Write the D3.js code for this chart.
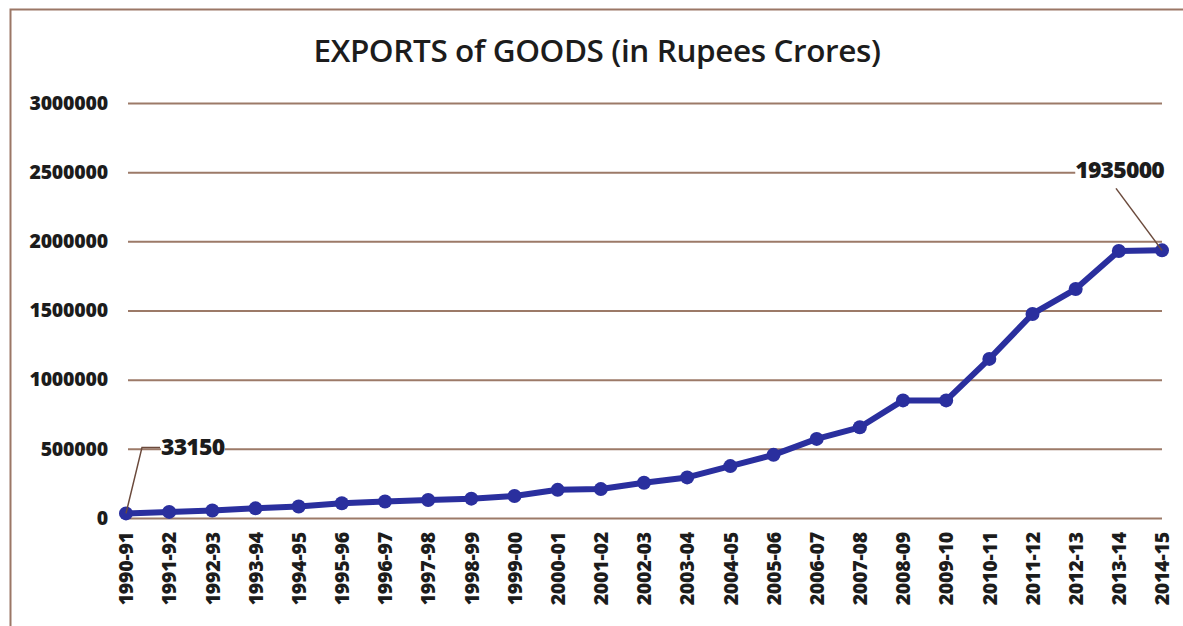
<!DOCTYPE html>
<html>
<head>
<meta charset="utf-8">
<script src="https://cdn.jsdelivr.net/npm/d3@7"></script>
<style>
  html, body { margin: 0; padding: 0; background: #fff; }
  svg { display: block; }
</style>
</head>
<body>
<svg id="chart" width="1183" height="626"></svg>
<script>
// Fiscal years on the x axis
const years = ["1990-91","1991-92","1992-93","1993-94","1994-95","1995-96","1996-97",
  "1997-98","1998-99","1999-00","2000-01","2001-02","2002-03","2003-04","2004-05",
  "2005-06","2006-07","2007-08","2008-09","2009-10","2010-11","2011-12","2012-13",
  "2013-14","2014-15"];

// Exports of goods, Rupees crores
const exportsValues = [33150, 44041, 53688, 69751, 82674, 106353, 118817, 130101, 139752,
  159561, 203571, 209018, 255137, 293367, 375340, 456418, 571779, 655864, 850000,
  850000, 1150000, 1475000, 1655000, 1930000, 1935000];

const yTicks = [0, 500000, 1000000, 1500000, 2000000, 2500000, 3000000];

// Indices of points carrying a value label
const labelledIdx = [0, 24];

const svg = d3.select("#chart");
const W = 1183, H = 626;
const margin = { left: 126, right: 21, top: 103, bottom: 108 };

const font = "'Open Sans', 'DejaVu Sans', sans-serif";
const gridColor = "#9c7a68";
const inkColor = "#1c1c1c";

// Outer frame (top and left edges visible)
svg.append("path")
  .attr("d", `M10.5,${H} V9.5 H${W}`)
  .attr("fill", "none")
  .attr("stroke", "#9b7766")
  .attr("stroke-width", 2);

const x = d3.scalePoint()
  .domain(years)
  .range([margin.left, W - margin.right]);

const y = d3.scaleLinear()
  .domain([0, 3000000])
  .range([H - margin.bottom, margin.top]);

// Title
svg.append("text")
  .attr("x", 597)
  .attr("y", 62)
  .attr("text-anchor", "middle")
  .attr("font-family", font)
  .attr("font-size", 31.5)
  .attr("font-weight", 600)
  .attr("letter-spacing", -0.4)
  .attr("fill", inkColor)
  .text("EXPORTS of GOODS (in Rupees Crores)");

// Horizontal gridlines + y labels
const yAxis = d3.axisLeft(y)
  .tickValues(yTicks)
  .tickSize(-(x.range()[1] - x.range()[0] - 2))
  .tickPadding(20)
  .tickFormat(d3.format("d"));

const gy = svg.append("g")
  .attr("transform", `translate(${margin.left + 2},0)`)
  .call(yAxis);
gy.select(".domain").remove();
gy.selectAll(".tick line")
  .attr("stroke", gridColor)
  .attr("stroke-width", 2);
gy.selectAll(".tick text")
  .attr("font-family", font)
  .attr("font-weight", 800)
  .attr("font-size", 19.5)
  .attr("letter-spacing", -0.2)
  .attr("fill", inkColor);

// Rotated category labels
const xAxis = d3.axisBottom(x).tickSize(0).tickPadding(0);
const gx = svg.append("g")
  .attr("transform", `translate(0,${H - margin.bottom})`)
  .call(xAxis);
gx.select(".domain").remove();
gx.selectAll(".tick text")
  .attr("transform", "rotate(-90)")
  .attr("text-anchor", "end")
  .attr("x", -14)
  .attr("y", 0)
  .attr("dy", "0.35em")
  .attr("font-family", font)
  .attr("font-weight", 800)
  .attr("font-size", 19.5)
  .attr("letter-spacing", -0.2)
  .attr("fill", inkColor);

// Series line
const line = d3.line()
  .x((d, i) => x(years[i]))
  .y(d => y(d));

svg.append("path")
  .datum(exportsValues)
  .attr("d", line)
  .attr("fill", "none")
  .attr("stroke", "#2a2f9e")
  .attr("stroke-width", 6)
  .attr("stroke-linejoin", "round");

svg.append("g")
  .selectAll("circle")
  .data(exportsValues)
  .join("circle")
  .attr("cx", (d, i) => x(years[i]))
  .attr("cy", d => y(d))
  .attr("r", 7)
  .attr("fill", "#2a2f9e");

// Value labels with leader lines
const labelSpecs = [
  { dx: 16, dy: -66, anchor: "start", hook: 18 },
  { dx: -46, dy: -62, anchor: "end", hook: 0 }
];
labelledIdx.forEach((idx, k) => {
  const s = labelSpecs[k];
  const px = x(years[idx]), py = y(exportsValues[idx]);
  const lx = px + s.dx, ly = py + s.dy;
  const leader = s.hook
    ? `M${px},${py} L${lx},${ly} H${lx + s.hook}`
    : `M${px},${py} L${lx},${ly}`;
  svg.append("path")
    .attr("d", leader)
    .attr("fill", "none")
    .attr("stroke", "#6b4a3c")
    .attr("stroke-width", 1.5);
  const t = svg.append("text")
    .attr("x", s.hook ? lx + s.hook + 1 : px + 2)
    .attr("y", s.hook ? ly + 8 : ly - 10)
    .attr("text-anchor", s.anchor)
    .attr("font-family", font)
    .attr("font-weight", 800)
    .attr("font-size", 23)
    .attr("letter-spacing", -0.8)
    .attr("fill", inkColor)
    .text(d3.format("d")(exportsValues[idx]));
  // white backing so the gridline does not run through the label
  const bb = t.node().getBBox();
  svg.insert("rect", () => t.node())
    .attr("x", bb.x)
    .attr("y", bb.y + 3)
    .attr("width", bb.width)
    .attr("height", bb.height - 6)
    .attr("fill", "#fff");
});
</script>
</body>
</html>
